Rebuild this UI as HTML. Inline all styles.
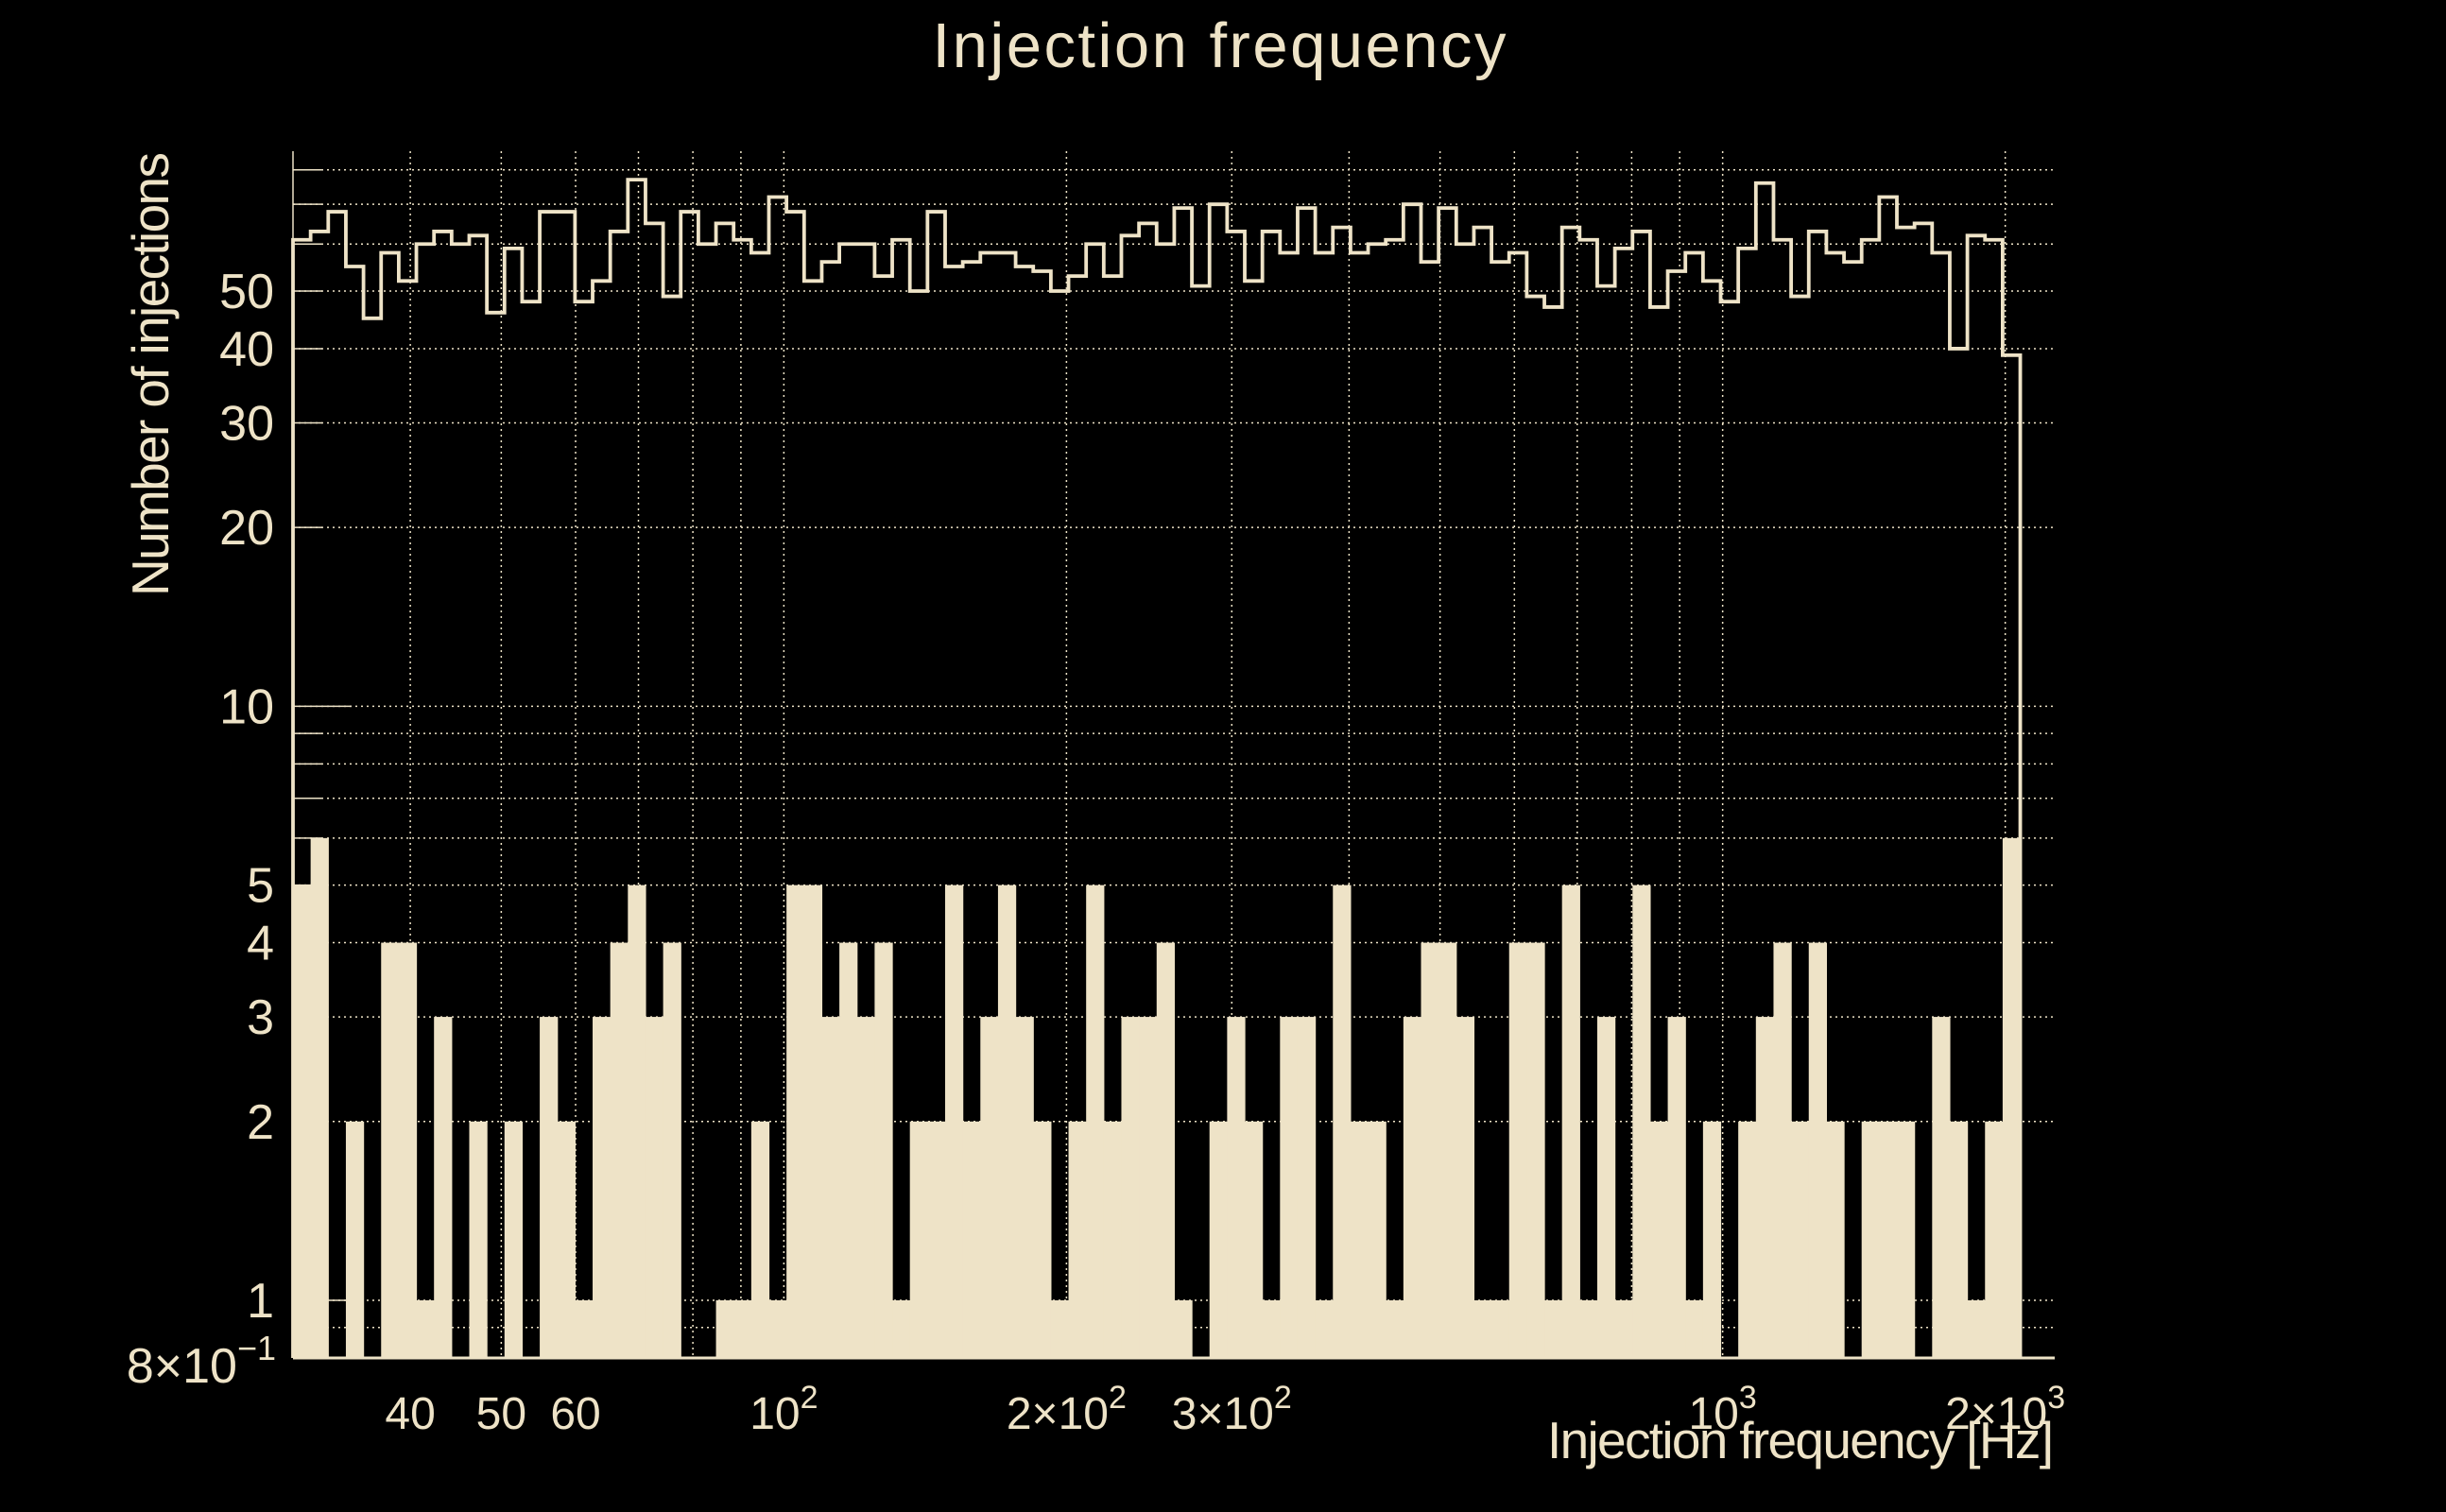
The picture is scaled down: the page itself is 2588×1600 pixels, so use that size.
<!DOCTYPE html>
<html>
<head>
<meta charset="utf-8">
<style>
  html,body{margin:0;padding:0;background:#000;}
  svg{display:block;}
  text{font-family:"Liberation Sans",sans-serif;fill:#EEE3C7;}
</style>
</head>
<body>
<svg id="chart" xmlns="http://www.w3.org/2000/svg" width="2588" height="1600" viewBox="0 0 2588 1600">
  <rect x="0" y="0" width="2588" height="1600" fill="#000"/>
  <g id="grid"></g>
  <g id="bars"></g>
  <g id="step"></g>
  <g id="axes"></g>
  <text x="1290" y="71" font-size="67" text-anchor="middle" textLength="607">Injection frequency</text>
  <text x="2173" y="1543" font-size="55" text-anchor="end" textLength="536">Injection frequency [Hz]</text>
  <text x="0" y="0" font-size="55" text-anchor="end" textLength="470" transform="translate(178,161) rotate(-90)">Number of injections</text>
</svg>
<script>
// ---- data ----
const binLow = 30;
const binHigh = 2075;
const outlineCounts = [61,63,68,55,45,58,52,60,63,60,62,46,59,48,68,68,48,52,63,77,65,49,68,60,65,61,58,72,68,52,56,60,60,53,61,50,68,55,56,58,58,55,54,50,53,60,53,62,65,60,69,51,70,63,52,63,58,69,58,64,58,60,61,70,56,69,60,64,56,58,49,47,64,61,51,59,63,47,54,58,52,48,59,76,61,49,63,58,56,61,72,64,65,58,40,62,61,39];
const filledCounts = [5,6,0,2,0,4,4,1,3,0,2,0,2,0,3,2,1,3,4,5,3,4,0,0,1,1,2,1,5,5,3,4,3,4,1,2,2,5,2,3,5,3,2,1,2,5,2,3,3,4,1,0,2,3,2,1,3,3,1,5,2,2,1,3,4,4,3,1,1,4,4,1,5,1,3,1,5,2,3,1,2,0,2,3,4,2,4,2,0,2,2,2,0,3,2,1,2,6];
const xMajorTicks = [40,50,60,100,200,300,1000,2000];
const xMajorLabels = [["40",""],["50",""],["60",""],["10","2"],["2\u00d710","2"],["3\u00d710","2"],["10","3"],["2\u00d710","3"]];
const xGridValues = [40,50,60,70,80,90,100,200,300,400,500,600,700,800,900,1000,2000];
const yTickValues = [0.8,1,2,3,4,5,10,20,30,40,50];
const yTickLabels = ["8\u00d710","1","2","3","4","5","10","20","30","40","50"];
const yGridValues = [0.9,1,2,3,4,5,6,7,8,9,10,20,30,40,50,60,70,80];

// ---- axes ----
const NS = "http://www.w3.org/2000/svg";
const C = "#EEE3C7";
const X0 = 310, X1 = 2174, XMIN = 30, XMAX = 2258;
const Y0 = 1437, YTOP = 160, YMIN = 0.8;
function xs(f){ return X0 + (Math.log10(f)-Math.log10(XMIN))/(Math.log10(XMAX)-Math.log10(XMIN))*(X1-X0); }
function ys(v){ return 1376 - Math.log10(v)*628.6; }
function mk(tag, attrs, parent){
  const e = document.createElementNS(NS, tag);
  for (const k in attrs) e.setAttribute(k, attrs[k]);
  parent.appendChild(e);
  return e;
}
const nb = filledCounts.length;
function edge(i){ return Math.pow(10, Math.log10(binLow) + i*(Math.log10(binHigh)-Math.log10(binLow))/nb); }

// grid
const grid = document.getElementById('grid');
xGridValues.forEach(v=>{
  const l = mk('line',{x1:xs(v),x2:xs(v),y1:YTOP,y2:Y0,stroke:C,'stroke-width':1.5,'stroke-dasharray':'2,4'},grid);
  
  
});
yGridValues.forEach(v=>{
  const l = mk('line',{x1:X0,x2:X1,y1:ys(v),y2:ys(v),stroke:C,'stroke-width':1.5,'stroke-dasharray':'2,4'},grid);
  
  
});

// filled bars
const bars = document.getElementById('bars');
filledCounts.forEach((c,i)=>{
  if (c < YMIN) return;
  const xa = xs(edge(i)), xb = xs(edge(i+1));
  const y = ys(c);
  const r = mk('rect',{x:xa,y:y,width:xb-xa+0.6,height:Y0-y,fill:C},bars);
  
  
});

// step outline
const stepG = document.getElementById('step');
let d = 'M'+xs(edge(0))+','+Y0;
outlineCounts.forEach((c,i)=>{
  const y = ys(c);
  d += ' L'+xs(edge(i))+','+y+' L'+xs(edge(i+1))+','+y;
});
d += ' L'+xs(edge(nb))+','+Y0;
const p = mk('path',{d:d,fill:'none',stroke:C,'stroke-width':3.8,'stroke-linejoin':'miter'},stepG);



// axes lines & ticks
const axes = document.getElementById('axes');
const la = mk('line',{x1:X0,x2:X0,y1:YTOP,y2:Y0,stroke:C,'stroke-width':1.5},axes);


const ba = mk('line',{x1:X0,x2:X1,y1:Y0,y2:Y0,stroke:C,'stroke-width':3},axes);


yGridValues.forEach(v=>{
  const len = (v===1||v===10) ? 62 : 31;
  const t = mk('line',{x1:X0,x2:X0+len,y1:ys(v),y2:ys(v),stroke:C,'stroke-width':1.5},axes);
  
  
});

// y tick labels
yTickValues.forEach((v,i)=>{
  const y = ys(v);
  const t = mk('text',{x:290,y:y+18,'font-size':52,'text-anchor':'end'},axes);
  if (v === 0.8){
    t.setAttribute('font-size','52');
    t.setAttribute('y', y+26);
    t.setAttribute('x', 292);
    t.textContent = yTickLabels[i];
    const s = mk('tspan',{dy:-24,'font-size':36},t);
    s.textContent = '\u22121';
  } else {
    t.textContent = yTickLabels[i];
  }
  
  
});

// x tick labels
xMajorTicks.forEach((v,i)=>{
  const lab = xMajorLabels[i];
  const t = mk('text',{x:xs(v),y:1512,'font-size':48,'text-anchor':'middle'},axes);
  const a = mk('tspan',{},t);
  a.textContent = lab[0];
  if (lab[1]){
    const s = mk('tspan',{dy:-22,'font-size':34},t);
    s.textContent = lab[1];
  }
  
  
});
</script>
</body>
</html>
